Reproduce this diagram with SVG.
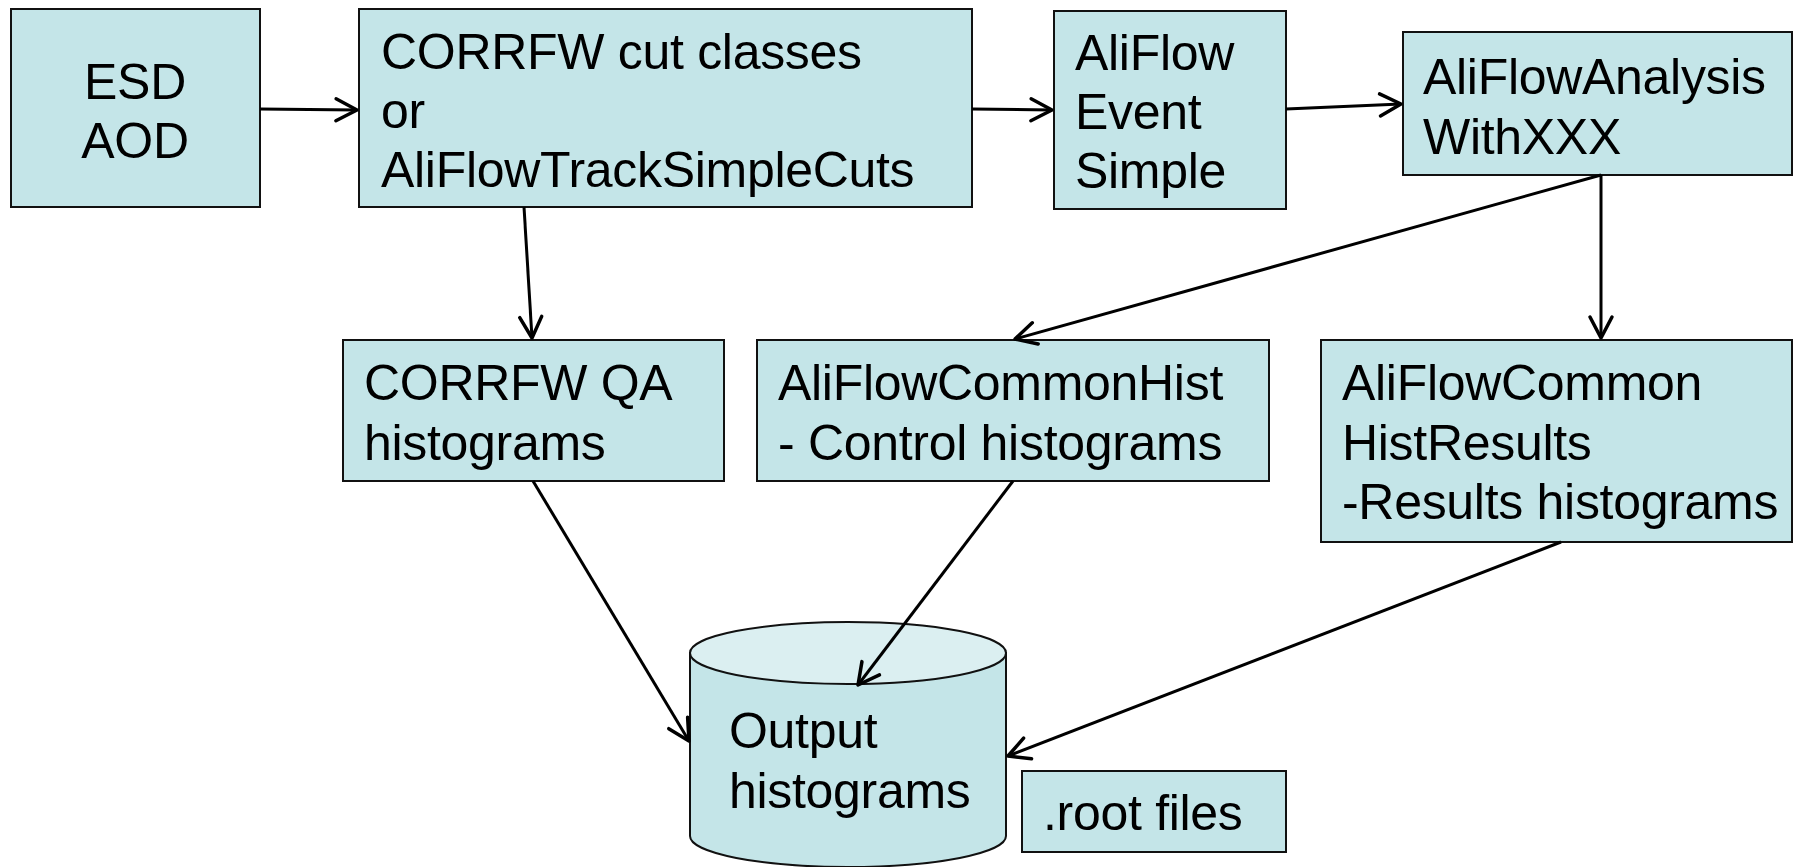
<svg xmlns="http://www.w3.org/2000/svg" width="1793" height="867" viewBox="0 0 1793 867">
<defs>
<style>
.box{fill:#c4e5e8;stroke:#111;stroke-width:2}
.t{font-family:"Liberation Sans",Arial,sans-serif;font-size:50px;letter-spacing:-0.3px;fill:#000}
.c{text-anchor:middle}
.conn{stroke:#000;stroke-width:3;fill:none}
</style>
<marker id="arr" markerUnits="userSpaceOnUse" viewBox="-24 -14 28 28" refX="0" refY="0" markerWidth="28" markerHeight="28" orient="auto">
<path d="M -21 -11 L 0 0 L -21 11" fill="none" stroke="#000" stroke-width="3.5" stroke-linecap="round" stroke-linejoin="round"/>
</marker>
</defs>
<rect width="1793" height="867" fill="#fff"/>
<g id="esd">
<rect class="box" x="11" y="9" width="249" height="198"/>
<text class="t c" x="135" y="99">ESD</text>
<text class="t c" x="135" y="158">AOD</text>
</g>
<g id="corrfw">
<rect class="box" x="359" y="9" width="613" height="198"/>
<text class="t" x="381" y="69">CORRFW cut classes</text>
<text class="t" x="381" y="128">or</text>
<text class="t" x="381" y="187">AliFlowTrackSimpleCuts</text>
</g>
<g id="event">
<rect class="box" x="1054" y="11" width="232" height="198"/>
<text class="t" x="1075" y="70">AliFlow</text>
<text class="t" x="1075" y="129">Event</text>
<text class="t" x="1075" y="188">Simple</text>
</g>
<g id="analysis">
<rect class="box" x="1403" y="32" width="389" height="143"/>
<text class="t" x="1423" y="94">AliFlowAnalysis</text>
<text class="t" x="1423" y="154">WithXXX</text>
</g>
<g id="qa">
<rect class="box" x="343" y="340" width="381" height="141"/>
<text class="t" x="364" y="400">CORRFW QA</text>
<text class="t" x="364" y="460">histograms</text>
</g>
<g id="commonhist">
<rect class="box" x="757" y="340" width="512" height="141"/>
<text class="t" x="778" y="400">AliFlowCommonHist</text>
<text class="t" x="778" y="460">- Control histograms</text>
</g>
<g id="histresults">
<rect class="box" x="1321" y="340" width="471" height="202"/>
<text class="t" x="1342" y="400">AliFlowCommon</text>
<text class="t" x="1342" y="460">HistResults</text>
<text class="t" x="1342" y="519">-Results histograms</text>
</g>
<g id="output">
<path d="M 690 653 L 690 836 A 158 31 0 0 0 1006 836 L 1006 653 Z" fill="#c4e5e8" stroke="#111" stroke-width="2"/>
<ellipse cx="848" cy="653" rx="158" ry="31" fill="#dbeff1" stroke="#111" stroke-width="2"/>
<text class="t" x="729" y="748">Output</text>
<text class="t" x="729" y="808">histograms</text>
</g>
<g id="rootfiles">
<rect class="box" x="1022" y="771" width="264" height="81"/>
<text class="t" x="1043" y="830">.root files</text>
</g>
<g id="connectors" class="conn">
<line x1="260" y1="109" x2="357" y2="110" marker-end="url(#arr)"/>
<line x1="972" y1="109" x2="1052" y2="110" marker-end="url(#arr)"/>
<line x1="1286" y1="109" x2="1401" y2="104" marker-end="url(#arr)"/>
<line x1="524" y1="207" x2="532" y2="338" marker-end="url(#arr)"/>
<line x1="1601" y1="175" x2="1015" y2="339" marker-end="url(#arr)"/>
<line x1="1601" y1="175" x2="1601" y2="338" marker-end="url(#arr)"/>
<line x1="533" y1="481" x2="689" y2="741" marker-end="url(#arr)"/>
<line x1="1013" y1="481" x2="858" y2="685" marker-end="url(#arr)"/>
<line x1="1561" y1="542" x2="1008" y2="756" marker-end="url(#arr)"/>
</g>
</svg>
